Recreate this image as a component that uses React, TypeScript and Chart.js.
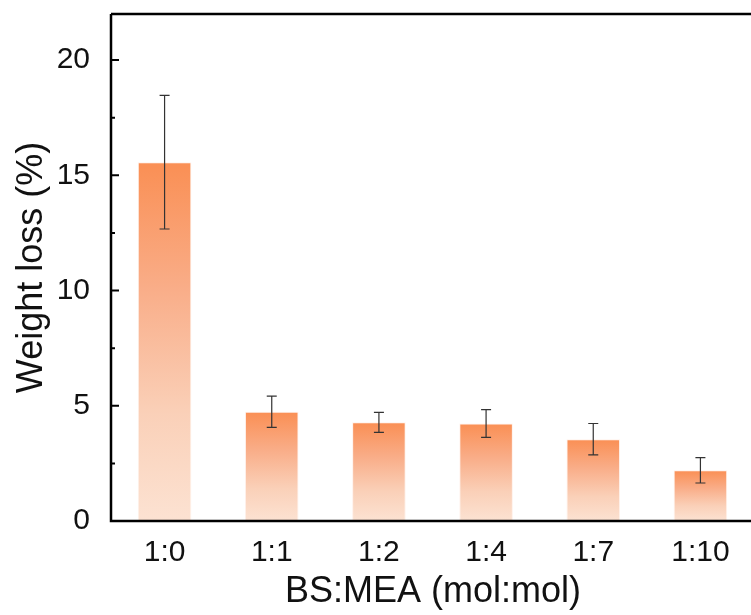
import React, { useEffect, useRef } from "react";
import { Chart, registerables } from "chart.js";

Chart.register(...registerables);

const categories = ["1:0", "1:1", "1:2", "1:4", "1:7", "1:10"];
const weightLoss = [15.57, 4.74, 4.28, 4.23, 3.55, 2.2];
const errors = [2.9, 0.68, 0.43, 0.6, 0.68, 0.55];
const yTicks = [0, 5, 10, 15, 20];
const yMinorTicks = [2.5, 7.5, 12.5, 17.5];
const yMax = 22;
const xTitle = "BS:MEA (mol:mol)";
const yTitle = "Weight loss (%)";

const FONT = "'Liberation Sans', Arial, sans-serif";

const axesPlugin = {
  id: "axesPlugin",
  afterDatasetsDraw(chart: any) {
    const { ctx, chartArea, scales } = chart;
    const ys = scales.y;
    const meta = chart.getDatasetMeta(0);
    ctx.save();
    // error bars
    ctx.strokeStyle = "#333";
    ctx.lineWidth = 1.2;
    meta.data.forEach((bar: any, i: number) => {
      const x = bar.x;
      const yTop = ys.getPixelForValue(weightLoss[i] + errors[i]);
      const yBot = ys.getPixelForValue(weightLoss[i] - errors[i]);
      ctx.beginPath();
      ctx.moveTo(x, yTop);
      ctx.lineTo(x, yBot);
      ctx.moveTo(x - 5, yTop);
      ctx.lineTo(x + 5, yTop);
      ctx.moveTo(x - 5, yBot);
      ctx.lineTo(x + 5, yBot);
      ctx.stroke();
    });
    // axes
    ctx.strokeStyle = "#000";
    ctx.lineWidth = 2.5;
    ctx.beginPath();
    ctx.moveTo(chartArea.left, chartArea.top);
    ctx.lineTo(chartArea.left, chartArea.bottom);
    ctx.lineTo(chartArea.right + 20, chartArea.bottom);
    ctx.moveTo(chartArea.left, chartArea.top);
    ctx.lineTo(chartArea.right + 20, chartArea.top);
    ctx.stroke();
    // inward ticks
    ctx.lineWidth = 2;
    ctx.beginPath();
    yTicks.forEach((v) => {
      const y = ys.getPixelForValue(v);
      ctx.moveTo(chartArea.left, y);
      ctx.lineTo(chartArea.left + 8, y);
    });
    yMinorTicks.forEach((v) => {
      const y = ys.getPixelForValue(v);
      ctx.moveTo(chartArea.left, y);
      ctx.lineTo(chartArea.left + 4, y);
    });
    ctx.stroke();
    // titles
    ctx.fillStyle = "#111";
    ctx.font = `36px ${FONT}`;
    ctx.textAlign = "center";
    ctx.textBaseline = "alphabetic";
    ctx.fillText(xTitle, 433, 602);
    ctx.translate(32, (chartArea.top + chartArea.bottom) / 2);
    ctx.rotate(-Math.PI / 2);
    ctx.textBaseline = "middle";
    ctx.fillText(yTitle, 0, 0);
    ctx.restore();
  },
};

export default function App() {
  const ref = useRef<HTMLCanvasElement | null>(null);
  useEffect(() => {
    if (!ref.current) return;
    const chart = new Chart(ref.current, {
      type: "bar",
      data: {
        labels: categories,
        datasets: [
          {
            data: weightLoss,
            backgroundColor: (c: any) => {
              const ch = c.chart;
              const ys = ch.scales && ch.scales.y;
              if (!ys || !ch.chartArea) return "#FA9158";
              const top = ys.getPixelForValue(weightLoss[c.dataIndex]);
              const bottom = ys.getPixelForValue(0);
              const g = ch.ctx.createLinearGradient(0, top, 0, bottom);
              g.addColorStop(0, "#FA8F54");
              g.addColorStop(0.35, "#F9AD88");
              g.addColorStop(0.7, "#FAD0B8");
              g.addColorStop(1, "#FCE2D2");
              return g;
            },
            borderColor: "rgba(255,240,232,0.9)",
            borderWidth: 1,
            barPercentage: 0.5,
            categoryPercentage: 1,
          },
        ],
      },
      options: {
        animation: false,
        responsive: false,
        maintainAspectRatio: false,
        layout: { padding: { top: 14, right: 16, left: 0, bottom: 0 } },
        plugins: { legend: { display: false }, tooltip: { enabled: false } },
        scales: {
          x: {
            offset: true,
            grid: { display: false },
            border: { display: false },
            ticks: { font: { family: FONT, size: 30 }, color: "#111", padding: 6 },
            afterFit: (s: any) => {
              s.height = 94;
              s.paddingLeft = 0;
              s.paddingRight = 0;
            },
          },
          y: {
            min: 0,
            max: yMax,
            grid: { display: false },
            border: { display: false },
            afterBuildTicks: (s: any) => {
              s.ticks = yTicks.map((v) => ({ value: v }));
            },
            ticks: { font: { family: FONT, size: 30 }, color: "#111", padding: 13 },
            afterFit: (s: any) => {
              s.width = 111;
              s.paddingTop = 0;
              s.paddingBottom = 0;
            },
          },
        },
      },
      plugins: [axesPlugin],
    });
    return () => chart.destroy();
  }, []);
  return (
    <div
      style={{
        position: "fixed",
        left: 0,
        top: 0,
        width: 751,
        height: 615,
        overflow: "hidden",
        background: "#fff",
      }}
    >
      <canvas ref={ref} width={770} height={615} style={{ display: "block" }} />
    </div>
  );
}
